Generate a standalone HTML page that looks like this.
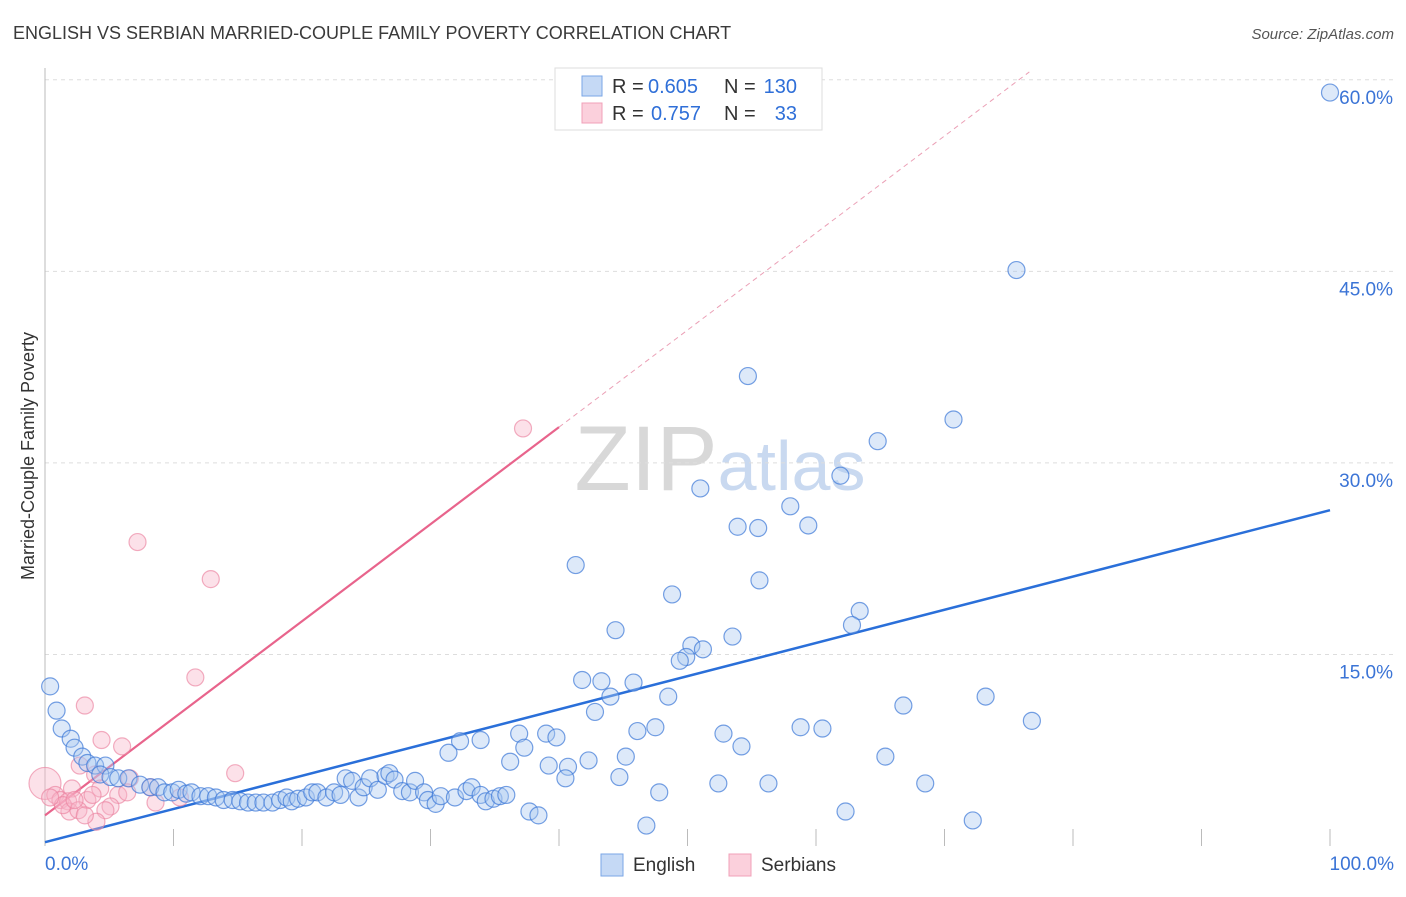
<!DOCTYPE html>
<html><head><meta charset="utf-8"><style>
body{margin:0;background:#fff;font-family:"Liberation Sans",sans-serif;}
svg text{font-family:"Liberation Sans",sans-serif;}
</style></head><body>
<svg id="chart" width="1406" height="892" xmlns="http://www.w3.org/2000/svg">
<text x="13" y="39" font-size="18" fill="#3a3a3a">ENGLISH VS SERBIAN MARRIED-COUPLE FAMILY POVERTY CORRELATION CHART</text>
<text x="1394" y="39" font-size="15" fill="#555" font-style="italic" text-anchor="end">Source: ZipAtlas.com</text>
<text x="720" y="490" font-size="92" fill="#d8d8d8" text-anchor="middle" font-family="Liberation Serif">ZIP<tspan fill="#c9d9f0" font-family="Liberation Sans" font-size="70">atlas</tspan></text>
<text transform="translate(34,456) rotate(-90)" font-size="18" fill="#333" text-anchor="middle">Married-Couple Family Poverty</text>
<g id="grid"></g><g id="axes"></g><g id="trends"></g><g id="pts"></g>
<g>
<rect x="555" y="68" width="267" height="62" fill="#fff" stroke="#ddd"/>
<rect x="582" y="76" width="20" height="20" fill="#c5d9f5" stroke="#7aa6e6"/>
<rect x="582" y="103" width="20" height="20" fill="#fbd0dc" stroke="#f0a0b8"/>
<text x="612" y="93" font-size="20" fill="#333">R =</text>
<text x="648" y="93" font-size="20" fill="#2f6fd8">0.605</text>
<text x="724" y="93" font-size="20" fill="#333">N =</text>
<text x="797" y="93" font-size="20" fill="#2f6fd8" text-anchor="end">130</text>
<text x="612" y="120" font-size="20" fill="#333">R =</text>
<text x="651" y="120" font-size="20" fill="#2f6fd8">0.757</text>
<text x="724" y="120" font-size="20" fill="#333">N =</text>
<text x="797" y="120" font-size="20" fill="#2f6fd8" text-anchor="end">33</text>
</g>
<g>
<rect x="601" y="854" width="22" height="22" fill="#c5d9f5" stroke="#7aa6e6"/>
<text x="633" y="871" font-size="19" fill="#333">English</text>
<rect x="729" y="854" width="22" height="22" fill="#fbd0dc" stroke="#f0a0b8"/>
<text x="761" y="871" font-size="19" fill="#333">Serbians</text>
</g>
</svg>
<script>
const yTicks=[15,30,45,60];
const xLabels=["0.0%","100.0%"];
const engX=[100,75.6,54.7,70.7,64.8,51.0,61.9,58.0,53.9,55.5,59.4,41.3,55.6,48.8,63.4,62.8,44.4,53.5,50.3,51.2,49.9,49.4,41.8,43.3,45.8,44.0,48.5,73.2,66.8,42.8,76.8,58.8,60.5,47.5,46.1,39.0,36.9,39.8,52.8,32.3,33.9,54.2,37.3,31.4,45.2,65.4,36.2,42.3,39.2,40.7,40.5,44.7,52.4,56.3,68.5,47.8,37.7,38.4,62.3,46.8,72.2,
0.4,0.9,1.3,2.0,2.3,2.9,3.3,3.9,4.7,4.3,5.1,5.7,6.5,7.4,8.2,8.8,9.3,9.9,10.4,11.0,11.4,12.1,12.7,13.3,13.9,14.6,15.2,15.8,16.4,17.0,17.7,18.3,18.8,19.2,19.7,20.3,20.8,21.2,21.9,22.5,23.0,23.4,23.9,24.4,24.8,25.3,25.9,26.5,26.8,27.2,27.8,28.4,28.8,29.5,29.8,30.4,30.8,31.9,32.8,33.2,33.9,34.3,34.9,35.4,35.9];
const engY=[59.0,45.1,36.8,33.4,31.7,28.0,29.0,26.6,25.0,24.9,25.1,22.0,20.8,19.7,18.4,17.3,16.9,16.4,15.7,15.4,14.8,14.5,13.0,12.9,12.8,11.7,11.7,11.7,11.0,10.5,9.8,9.3,9.2,9.3,9.0,8.8,8.8,8.5,8.8,8.2,8.3,7.8,7.7,7.3,7.0,7.0,6.6,6.7,6.3,6.2,5.3,5.4,4.9,4.9,4.9,4.2,2.7,2.4,2.7,1.6,2.0,
12.5,10.6,9.2,8.4,7.7,7.0,6.5,6.3,6.3,5.6,5.4,5.3,5.3,4.8,4.6,4.6,4.2,4.2,4.4,4.1,4.2,3.9,3.9,3.8,3.6,3.6,3.5,3.4,3.4,3.4,3.4,3.6,3.8,3.5,3.7,3.8,4.2,4.2,3.8,4.2,4.0,5.3,5.1,3.8,4.6,5.3,4.4,5.5,5.7,5.2,4.3,4.2,5.1,4.2,3.6,3.3,3.9,3.8,4.3,4.6,4.0,3.5,3.7,3.9,4.0];
const serX=[37.2,7.2,12.9,11.7,3.1,4.4,6.0,14.8,0,2.7,3.9,6.6,2.1,4.3,0.8,1.2,1.8,3.3,5.7,8.2,8.6,10.5,5.1,4.7,1.9,2.6,4.0,6.4,1.4,3.1,0.4,2.3,3.7];
const serY=[32.7,23.8,20.9,13.2,11.0,8.3,7.8,5.7,4.9,6.3,5.6,5.3,4.5,4.5,4.0,3.6,3.5,3.6,4.0,4.6,3.4,3.8,3.1,2.8,2.7,2.8,1.9,4.2,3.2,2.4,3.8,3.6,4.0];
const engTrend=[0.3,26.3];
const serTrend=[2.4,0.76];
const NS="http://www.w3.org/2000/svg";
const X=v=>45+v*12.85, Y=v=>846-v*12.77;
function mk(t,a,p){const e=document.createElementNS(NS,t);for(const k in a)e.setAttribute(k,a[k]);p.appendChild(e);return e;}
const grid=document.getElementById('grid'),axes=document.getElementById('axes'),tr=document.getElementById('trends'),pts=document.getElementById('pts');
yTicks.forEach(v=>{
 const l=mk('line',{x1:45,x2:1395,y1:Y(v),y2:Y(v),stroke:'#ddd','stroke-dasharray':'4,4'},grid);
 
 
 const t=mk('text',{x:1393,y:Y(v)+24,'font-size':19,fill:'#3b74d6','text-anchor':'end'},axes);
 t.textContent=v.toFixed(1)+'%';
 
 
});
const ax=mk('line',{x1:45,x2:45,y1:68,y2:846,stroke:'#bbb'},axes);


for(let i=0;i<=10;i++){const tk=mk('line',{x1:X(i*10),x2:X(i*10),y1:829,y2:846,stroke:'#bbb'},axes);
 
 }
[[0,'start',45],[100,'end',1394]].forEach((d,i)=>{const t=mk('text',{x:d[2],y:870,'font-size':19,fill:'#3b74d6','text-anchor':d[1]},axes);t.textContent=xLabels[i];
 
 });
const e1=mk('line',{x1:X(0),y1:Y(engTrend[0]),x2:X(100),y2:Y(engTrend[1]),stroke:'#2a6fd9','stroke-width':2.5},tr);


const s1=mk('line',{x1:X(0),y1:Y(serTrend[0]),x2:X(40),y2:Y(serTrend[0]+40*serTrend[1]),stroke:'#e8648c','stroke-width':2.2},tr);


const s2=mk('line',{x1:X(40),y1:Y(serTrend[0]+40*serTrend[1]),x2:X(76.6),y2:Y(serTrend[0]+76.6*serTrend[1]),stroke:'#eba0b6','stroke-width':1,'stroke-dasharray':'5,4'},tr);


serX.forEach((x,i)=>{const c=mk('circle',{cx:X(x),cy:Y(serY[i]),r:x===0?16:8.5,fill:'rgba(248,180,200,0.4)',stroke:'rgba(235,130,160,0.65)','stroke-width':1.2},pts);
 
 });
engX.forEach((x,i)=>{const c=mk('circle',{cx:X(x),cy:Y(engY[i]),r:8.5,fill:'rgba(170,200,240,0.4)',stroke:'rgba(60,120,215,0.7)','stroke-width':1.2},pts);
 
 });
</script>
</body></html>
